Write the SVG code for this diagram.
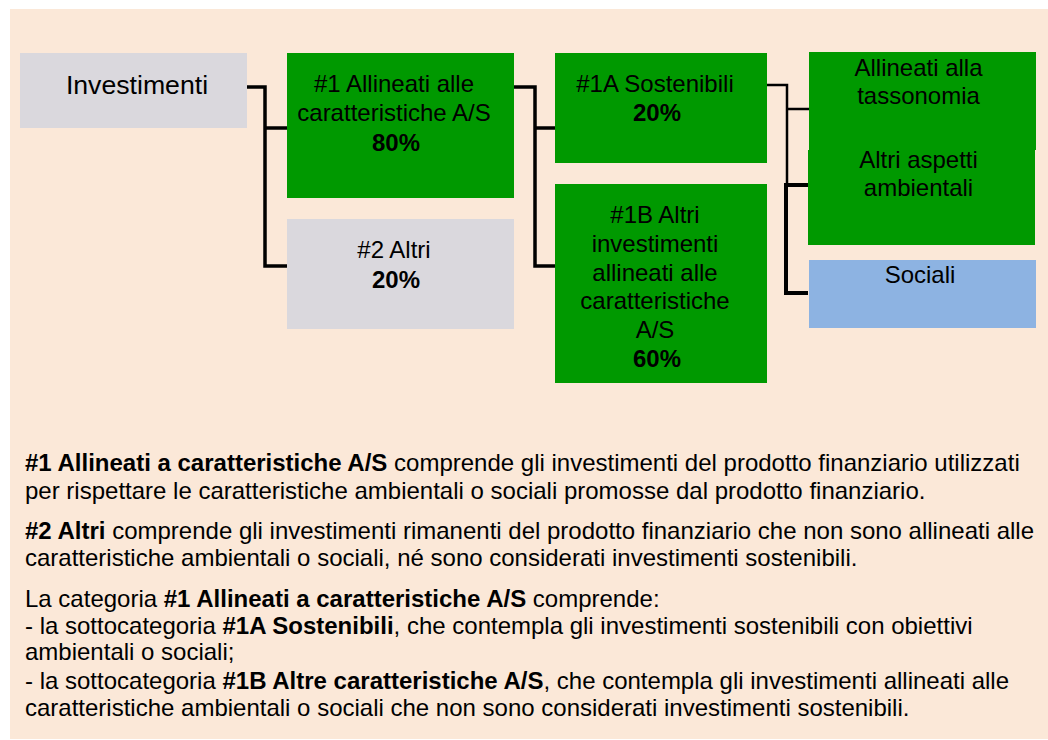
<svg xmlns="http://www.w3.org/2000/svg" width="1048" height="740" viewBox="0 0 1048 740">
<style>
text{font-family:"Liberation Sans",Arial,sans-serif;fill:#000}
.t{font-size:24px}
.c{text-anchor:middle}
.b{font-weight:bold}
.g{fill:#009900}
.gr{fill:#DAD8DD}
.bl{fill:#8DB3E2}
.ln{fill:none;stroke:#000;stroke-linejoin:miter}
</style>
<rect x="10" y="9" width="1038" height="730" fill="#FBE8D8"/>
<g id="connectors">
<path class="ln" stroke-width="3.5" d="M247 87H265V266H287M265 128H287"/>
<path class="ln" stroke-width="3.5" d="M514 87H535V266H555M535 128H555"/>
<path class="ln" stroke-width="2.5" d="M767 85H787V186M787 109H809"/>
<path class="ln" stroke-width="4" d="M808 185H786V293H808"/>
</g>
<g id="investimenti">
<rect class="gr" x="20" y="53" width="227" height="75"/>
<text x="137" y="94" class="c" font-size="26.67">Investimenti</text>
</g>
<g id="n1">
<rect class="g" x="287" y="53" width="227" height="145"/>
<text class="t c" x="394" y="92">#1 Allineati alle</text>
<text class="t c" x="394" y="121">caratteristiche A/S</text>
<text class="t c b" x="396" y="151">80%</text>
</g>
<g id="n2">
<rect class="gr" x="287" y="219" width="227" height="110"/>
<text class="t c" x="394" y="258">#2 Altri</text>
<text class="t c b" x="396" y="288">20%</text>
</g>
<g id="n1a">
<rect class="g" x="555" y="53" width="212" height="110"/>
<text class="t c" x="655" y="92">#1A Sostenibili</text>
<text class="t c b" x="657" y="121">20%</text>
</g>
<g id="n1b">
<rect class="g" x="555" y="184" width="212" height="199"/>
<text class="t c" x="655" y="223">#1B Altri</text>
<text class="t c" x="655" y="252">investimenti</text>
<text class="t c" x="655" y="281">allineati alle</text>
<text class="t c" x="655" y="309">caratteristiche</text>
<text class="t c" x="655" y="338">A/S</text>
<text class="t c b" x="657" y="367">60%</text>
</g>
<g id="tassonomia">
<rect class="g" x="809" y="52" width="227" height="98"/>
<text class="t c" x="918.5" y="76">Allineati alla</text>
<text class="t c" x="918.5" y="104">tassonomia</text>
</g>
<g id="altri-ambientali">
<rect class="g" x="808" y="150" width="227" height="95"/>
<text class="t c" x="918.5" y="168">Altri aspetti</text>
<text class="t c" x="918.5" y="196">ambientali</text>
</g>
<g id="sociali">
<rect class="bl" x="809" y="260" width="227" height="68"/>
<text class="t c" x="920" y="283">Sociali</text>
</g>
<g id="legend" class="t">
<text class="t" x="25" y="471"><tspan class="b">#1 Allineati a caratteristiche A/S</tspan> comprende gli investimenti del prodotto finanziario utilizzati</text>
<text class="t" x="25" y="499">per rispettare le caratteristiche ambientali o sociali promosse dal prodotto finanziario.</text>
<text class="t" x="25" y="539"><tspan class="b">#2 Altri</tspan> comprende gli investimenti rimanenti del prodotto finanziario che non sono allineati alle</text>
<text class="t" x="25" y="566">caratteristiche ambientali o sociali, né sono considerati investimenti sostenibili.</text>
<text class="t" x="25" y="607">La categoria <tspan class="b">#1 Allineati a caratteristiche A/S</tspan> comprende:</text>
<text class="t" x="25" y="634">- la sottocategoria <tspan class="b">#1A Sostenibili</tspan>, che contempla gli investimenti sostenibili con obiettivi</text>
<text class="t" x="25" y="660">ambientali o sociali;</text>
<text class="t" x="25" y="689">- la sottocategoria <tspan class="b">#1B Altre caratteristiche A/S</tspan>, che contempla gli investimenti allineati alle</text>
<text class="t" x="25" y="716">caratteristiche ambientali o sociali che non sono considerati investimenti sostenibili.</text>
</g>
</svg>
